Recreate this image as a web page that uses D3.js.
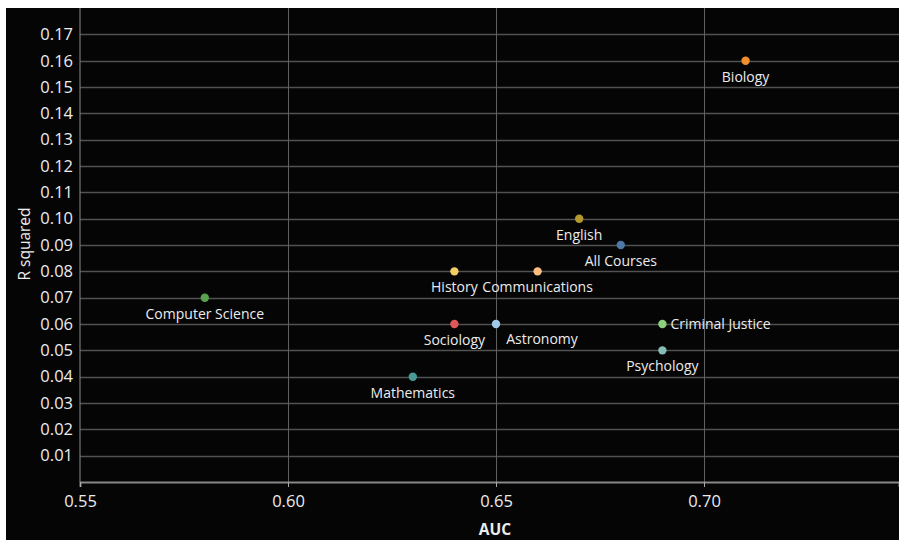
<!DOCTYPE html>
<html><head><meta charset="utf-8">
<script src="https://cdn.jsdelivr.net/npm/d3@7/dist/d3.min.js"></script>
<style>
html,body{margin:0;padding:0;background:#fff;}
svg{display:block;}
text{font-family:"Open Sans","Noto Sans",sans-serif;}
</style></head>
<body>
<svg id="chart" width="899" height="540"></svg>
<script>
const courses = ["Biology","English","All Courses","History","Communications","Computer Science","Sociology","Astronomy","Criminal Justice","Psychology","Mathematics"];
const aucValues = [0.71,0.67,0.68,0.64,0.66,0.58,0.64,0.65,0.69,0.69,0.63];
const rSquaredValues = [0.16,0.10,0.09,0.08,0.08,0.07,0.06,0.06,0.06,0.05,0.04];
const pointColors = ["#f28e2b","#b6992d","#4e79a7","#f1ce63","#ffbe7d","#59a14f","#e15759","#a0cbe8","#8cd17d","#86bcb6","#499894"];
const labelPlacement = ["below","below","below","below","below","below","below","belowRight","right","below","below"];
const xTicks = [0.55,0.60,0.65,0.70];
const yTicks = [0.01,0.02,0.03,0.04,0.05,0.06,0.07,0.08,0.09,0.10,0.11,0.12,0.13,0.14,0.15,0.16,0.17];

const svg = d3.select("#chart");
svg.append("rect").attr("x",6).attr("y",8).attr("width",893).attr("height",532).attr("fill","#050505");

const pL = 80, pR = 899, pT = 8, pB = 482;
const x = d3.scaleLinear().domain([0.55, 0.55 + (pR-pL)/4160]).range([pL, pR]);
const y = d3.scaleLinear().domain([0, (pB-pT)/2633]).range([pB, pT]);

// gridlines
svg.append("g").selectAll("line").data(yTicks).join("line")
  .attr("x1",pL).attr("x2",pR)
  .attr("y1",d=>Math.round(y(d))+0.5).attr("y2",d=>Math.round(y(d))+0.5)
  .attr("stroke","#525252").attr("stroke-width",1.3);
svg.append("g").selectAll("line").data(xTicks.slice(1)).join("line")
  .attr("x1",d=>Math.round(x(d))+0.5).attr("x2",d=>Math.round(x(d))+0.5)
  .attr("y1",pT).attr("y2",pB)
  .attr("stroke","#606060").attr("stroke-width",1);

// axes
const xAxis = svg.append("g").attr("transform",`translate(0,${pB})`)
  .call(d3.axisBottom(x).tickValues(xTicks).tickFormat(d3.format(".2f")).tickSize(5).tickPadding(8));
xAxis.select(".domain").attr("stroke","#888").attr("stroke-width",2);
xAxis.selectAll(".tick line").attr("stroke","#aaa");
xAxis.selectAll("text").attr("fill","#ececec").attr("font-size",16.5);

const yAxis = svg.append("g").attr("transform",`translate(${pL},0)`)
  .call(d3.axisLeft(y).tickValues(yTicks).tickFormat(d3.format(".2f")).tickSize(0).tickPadding(7));
yAxis.select(".domain").attr("stroke","#777").attr("stroke-width",1.2).attr("d",`M0,${pT}V${pB}`);
yAxis.selectAll("text").attr("fill","#ececec").attr("font-size",16.5);

// axis titles
svg.append("text").attr("x",495).attr("y",535).attr("text-anchor","middle")
  .attr("fill","#ececec").attr("font-size",15.5).attr("font-weight","bold").text("AUC");
svg.append("text").attr("transform","translate(30,244) rotate(-90)").attr("text-anchor","middle")
  .attr("fill","#ececec").attr("font-size",15.5).text("R squared");

// points
const data = courses.map((c,i)=>({name:c, auc:aucValues[i], r2:rSquaredValues[i], color:pointColors[i], place:labelPlacement[i]}));
const g = svg.append("g");
g.selectAll("circle").data(data).join("circle")
  .attr("cx",d=>x(d.auc)).attr("cy",d=>y(d.r2)).attr("r",4.2).attr("fill",d=>d.color);
g.selectAll("text").data(data).join("text")
  .attr("x",d=>d.place==="right"? x(d.auc)+8 : d.place==="belowRight"? x(d.auc)+46 : x(d.auc))
  .attr("y",d=>d.place==="right"? y(d.r2)+5 : d.place==="belowRight"? y(d.r2)+20 : y(d.r2)+21)
  .attr("text-anchor",d=>d.place==="right"?"start":"middle")
  .attr("fill","#ececec").attr("font-size",14).text(d=>d.name);
</script>
</body></html>
